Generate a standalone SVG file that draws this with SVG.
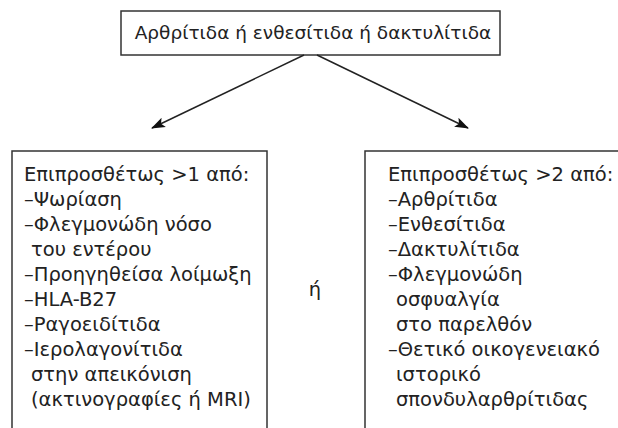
<svg xmlns="http://www.w3.org/2000/svg" width="618" height="428" viewBox="0 0 618 428">
<style>
.box{fill:#fff;stroke:#333;stroke-width:1.5}
.t{font-family:"DejaVu Sans","Liberation Sans",sans-serif;font-size:19.5px;fill:#222}
.tt{font-size:18.5px}
.c{stroke:#222;stroke-width:1.5;fill:none}
</style>
<defs>
<marker id="ah" markerWidth="14" markerHeight="12" refX="13" refY="5" orient="auto" markerUnits="userSpaceOnUse" viewBox="0 0 14 10">
<path d="M0,0 L14,5 L0,10 L3,5 Z" fill="#111"/>
</marker>
</defs>
<rect width="618" height="428" fill="#fff"/>
<g id="top">
<rect class="box" x="121" y="11" width="379" height="44"/>
<text class="t tt" x="313" y="39" text-anchor="middle">Αρθρίτιδα ή ενθεσίτιδα ή δακτυλίτιδα</text>
</g>
<g id="connectors">
<line class="c" x1="304" y1="55" x2="152" y2="128" marker-end="url(#ah)"/>
<line class="c" x1="317" y1="55" x2="468" y2="128" marker-end="url(#ah)"/>
</g>
<g id="left">
<rect class="box" x="12" y="151" width="255" height="300"/>
<text class="t" x="24" y="181">Επιπροσθέτως &gt;1 από:</text>
<text class="t" x="24" y="206">–Ψωρίαση</text>
<text class="t" x="24" y="231">–Φλεγμονώδη νόσο</text>
<text class="t" x="31" y="256">του εντέρου</text>
<text class="t" x="24" y="281">–Προηγηθείσα λοίμωξη</text>
<text class="t" x="24" y="306">–HLA-B27</text>
<text class="t" x="24" y="331">–Ραγοειδίτιδα</text>
<text class="t" x="24" y="356">–Ιερολαγονίτιδα</text>
<text class="t" x="31" y="381">στην απεικόνιση</text>
<text class="t" x="31" y="406">(ακτινογραφίες ή MRI)</text>
</g>
<g id="or">
<text class="t" x="315" y="296" text-anchor="middle">ή</text>
</g>
<g id="right">
<rect class="box" x="365" y="151" width="300" height="300"/>
<text class="t" x="388" y="181">Επιπροσθέτως &gt;2 από:</text>
<text class="t" x="388" y="206">–Αρθρίτιδα</text>
<text class="t" x="388" y="231">–Ενθεσίτιδα</text>
<text class="t" x="388" y="256">–Δακτυλίτιδα</text>
<text class="t" x="388" y="281">–Φλεγμονώδη</text>
<text class="t" x="396" y="306">οσφυαλγία</text>
<text class="t" x="396" y="331">στο παρελθόν</text>
<text class="t" x="388" y="356">–Θετικό οικογενειακό</text>
<text class="t" x="396" y="381">ιστορικό</text>
<text class="t" x="396" y="406">σπονδυλαρθρίτιδας</text>
</g>
</svg>
